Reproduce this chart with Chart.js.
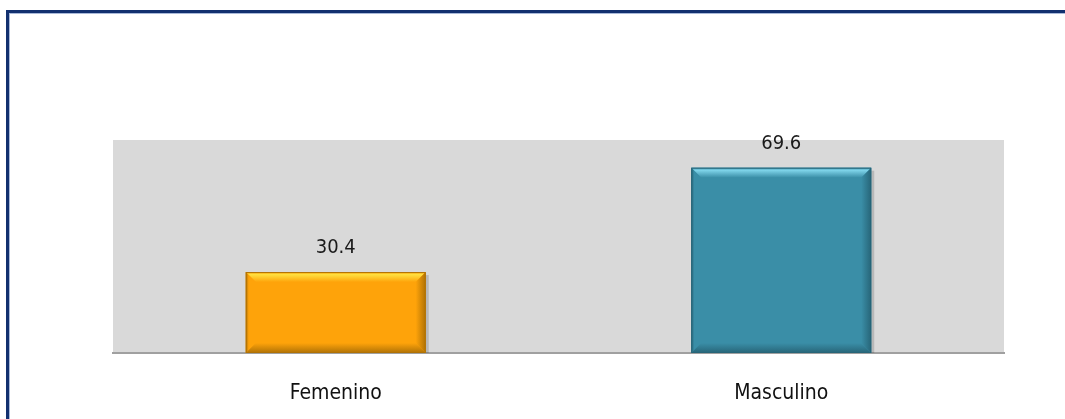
<!DOCTYPE html>
<html>
<head>
<meta charset="utf-8">
<script src="https://cdn.jsdelivr.net/npm/chart.js@4/dist/chart.umd.min.js"></script>
<style>
  html, body { margin: 0; padding: 0; background: #fff; overflow: hidden; }
  #wrap { position: relative; width: 1065px; height: 419px; }
  #frame { position: absolute; left: 6px; top: 10px; width: 1100px; height: 440px;
           border-left: 3px solid #12306f; border-top: 3px solid #12306f;
           box-shadow: inset 1px 1px 0 #a9b9d9; }
  canvas { position: absolute; left: 0; top: 0; }
</style>
</head>
<body>
<div id="wrap">
  <div id="frame"></div>
  <canvas id="c" width="1065" height="419"></canvas>
</div>
<script>
const categories = ["Femenino", "Masculino"];
const values = [30.4, 69.6];
const barColors = ["#FEA30A", "#3A8EA7"];
const bevelLight = ["#FFE040", "#7FD4EA"];
const bevelDark = ["#B07205", "#276578"];
const FONT = '"Liberation Sans Narrow", "DejaVu Sans Condensed", sans-serif';

const plotBg = {
  id: 'plotBg',
  beforeDraw(chart) {
    const {ctx, chartArea: a} = chart;
    ctx.save();
    ctx.fillStyle = '#D9D9D9';
    ctx.fillRect(a.left, a.top, a.right - a.left, a.bottom - a.top);
    ctx.restore();
  }
};

const bevel = {
  id: 'bevel',
  afterDatasetsDraw(chart) {
    const ctx = chart.ctx;
    const meta = chart.getDatasetMeta(0);
    meta.data.forEach((bar, i) => {
      const l = bar.x - bar.width / 2, r = bar.x + bar.width / 2;
      const t = bar.y, b = bar.base;
      const d = 10;
      ctx.save();
      ctx.fillStyle = 'rgba(0,0,0,0.15)';
      ctx.fillRect(r, t + 3, 3, b - t - 3);
      let g = ctx.createLinearGradient(0, t, 0, t + d);
      g.addColorStop(0, barColors[i]);
      g.addColorStop(0.25, bevelLight[i]);
      g.addColorStop(1, barColors[i]);
      ctx.fillStyle = g;
      ctx.beginPath(); ctx.moveTo(l, t); ctx.lineTo(r, t); ctx.lineTo(r - d, t + d); ctx.lineTo(l + d, t + d); ctx.closePath(); ctx.fill();
      g = ctx.createLinearGradient(l, 0, l + d, 0);
      g.addColorStop(0, bevelDark[i]);
      g.addColorStop(0.3, barColors[i]);
      g.addColorStop(1, barColors[i]);
      ctx.fillStyle = g;
      ctx.beginPath(); ctx.moveTo(l, t); ctx.lineTo(l + d, t + d); ctx.lineTo(l + d, b - d); ctx.lineTo(l, b); ctx.closePath(); ctx.fill();
      g = ctx.createLinearGradient(0, b - d, 0, b);
      g.addColorStop(0, barColors[i]);
      g.addColorStop(1, bevelDark[i]);
      ctx.fillStyle = g;
      ctx.beginPath(); ctx.moveTo(l, b); ctx.lineTo(r, b); ctx.lineTo(r - d, b - d); ctx.lineTo(l + d, b - d); ctx.closePath(); ctx.fill();
      g = ctx.createLinearGradient(r - d, 0, r, 0);
      g.addColorStop(0, barColors[i]);
      g.addColorStop(1, bevelDark[i]);
      ctx.fillStyle = g;
      ctx.beginPath(); ctx.moveTo(r, t); ctx.lineTo(r, b); ctx.lineTo(r - d, b - d); ctx.lineTo(r - d, t + d); ctx.closePath(); ctx.fill();
      ctx.strokeStyle = bevelDark[i];
      ctx.lineWidth = 1;
      ctx.strokeRect(l + 0.5, t + 0.5, r - l - 1, b - t - 1);
      ctx.fillStyle = '#1a1a1a';
      ctx.font = '20px ' + FONT;
      ctx.textAlign = 'center';
      ctx.textBaseline = 'alphabetic';
      ctx.fillText(values[i].toFixed(1), bar.x, t - 19);
      ctx.restore();
    });
  }
};

new Chart(document.getElementById('c'), {
  type: 'bar',
  data: {
    labels: categories,
    datasets: [{
      data: values,
      backgroundColor: barColors,
      borderWidth: 0,
      categoryPercentage: 1.0,
      barPercentage: 0.404
    }]
  },
  options: {
    responsive: false,
    animation: false,
    devicePixelRatio: 1,
    layout: { padding: { left: 113, right: 61, top: 140, bottom: 10 } },
    plugins: { legend: { display: false }, tooltip: { enabled: false } },
    scales: {
      y: { display: false, min: 0, max: 80 },
      x: {
        grid: { display: false, drawTicks: false },
        border: { display: true, color: '#A0A0A0', width: 2 },
        ticks: {
          padding: 28,
          color: '#111',
          font: { family: FONT, size: 21 }
        },
        afterFit(scale) { scale.height = 56; }
      }
    }
  },
  plugins: [plotBg, bevel]
});
</script>
</body>
</html>
